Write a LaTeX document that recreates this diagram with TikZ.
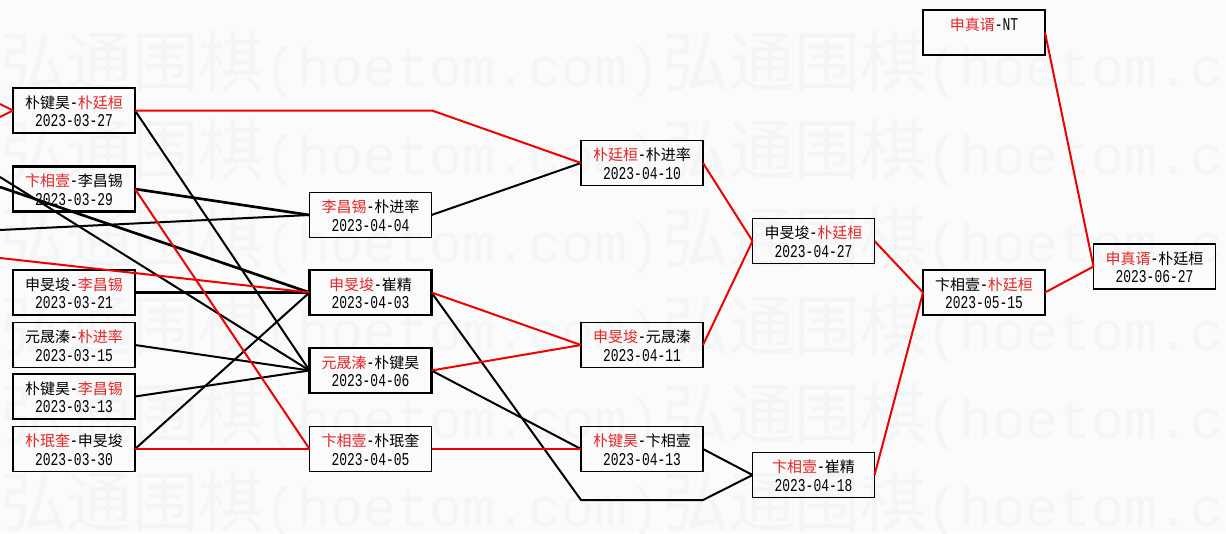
\documentclass[tikz,border=0pt]{standalone}
\usepackage{fontspec}
\newfontfamily\cjk{Noto Sans CJK SC}
\newfontfamily\cjklight{Noto Sans CJK SC Light}
\newfontfamily\dtfont[FakeStretch=0.72]{Liberation Mono}
\newfontfamily\wmfont{Liberation Mono}
\definecolor{bg}{RGB}{251,251,251}
\definecolor{wmc}{RGB}{244,245,246}
\definecolor{nred}{RGB}{228,38,38}
\definecolor{lred}{RGB}{236,0,0}
\newcommand\R[1]{\textcolor{nred}{#1}}
\newcommand\hy{{\fontsize{13.5pt}{14pt}\dtfont -}}
\newcommand\gbox[6]{%
  \node[#4] (#1) at (#2,#3) {};
  \node[nm] (#1n) at (#2,{#3-2.5}) {#5};
  \node[dt] (#1d) at (#2,{#3+16}) {#6};
}
\tikzset{
  box/.style={draw=black, line width=1.45pt, minimum width=91.5pt, minimum height=33.75pt, inner sep=0pt, outer sep=0pt},
  bbox/.style={box, line width=2.05pt},
  nm/.style={font=\cjk\fontsize{11.25pt}{12pt}\selectfont, inner sep=0pt, anchor=base},
  dt/.style={font=\dtfont\fontsize{13.5pt}{14pt}\selectfont, inner sep=0pt, anchor=base},
  wm/.style={text=wmc, inner sep=0pt, anchor=base west, font=\cjk\fontsize{49.5pt}{50pt}\selectfont},
  ln/.style={line width=1.5pt, line join=round},
  rl/.style={ln, draw=lred},
  bl/.style={ln, draw=black},
  tb/.style={bl, line width=2pt}
}
\newcommand\wmtext{弘通围棋{\wmfont\fontsize{41.25pt}{42pt}\selectfont(hoetom.com)}}
\begin{document}
\begin{tikzpicture}[x=0.75pt,y=-0.75pt]
\useasboundingbox (0,0) rectangle (1226,533);
\fill[bg] (0,0) rectangle (1226,533);
% watermark
\begin{scope}
\clip (0,0) rectangle (1226,533);
\foreach \k in {0,...,5}{
  \node[wm] (wa\k) at (0,{86+88*\k}) {\wmtext};
  \node[wm] (wb\k) at (662,{86+88*\k}) {\wmtext};
}
\end{scope}
% free ends and bends
\coordinate (Ri1) at (0,104);
\coordinate (Ri2) at (0,117);
\coordinate (L1) at (0,177);
\coordinate (L2) at (0,187);
\coordinate (L3) at (0,230);
\coordinate (L4) at (0,258);
\coordinate (K1) at (432,110.5);
\coordinate (K2) at (581,500);
\coordinate (K3) at (703,500);
% boxes
\gbox{A1}{74}{110.5}{box}{朴键昊\hy\R{朴廷桓}}{2023-03-27}
\gbox{A2}{74}{189}{bbox}{\R{卞相壹}\hy 李昌锡}{2023-03-29}
\gbox{A3}{74}{292.5}{bbox}{申旻埈\hy\R{李昌锡}}{2023-03-21}
\gbox{A4}{74}{345}{box}{元晟溱\hy\R{朴进率}}{2023-03-15}
\gbox{A5}{74}{396.5}{bbox}{朴键昊\hy\R{李昌锡}}{2023-03-13}
\gbox{A6}{74}{449}{box}{\R{朴珉奎}\hy 申旻埈}{2023-03-30}
\gbox{B1}{370.5}{215}{box}{\R{李昌锡}\hy 朴进率}{2023-04-04}
\gbox{B2}{370.5}{292.5}{bbox}{\R{申旻埈}\hy 崔精}{2023-04-03}
\gbox{B3}{370.5}{370.5}{bbox}{\R{元晟溱}\hy 朴键昊}{2023-04-06}
\gbox{B4}{370.5}{449}{box}{\R{卞相壹}\hy 朴珉奎}{2023-04-05}
\gbox{C1}{642}{163}{box}{\R{朴廷桓}\hy 朴进率}{2023-04-10}
\gbox{C2}{642}{345}{box}{\R{申旻埈}\hy 元晟溱}{2023-04-11}
\gbox{C3}{642}{449}{box}{\R{朴键昊}\hy 卞相壹}{2023-04-13}
\gbox{D1}{813.5}{241}{box}{申旻埈\hy\R{朴廷桓}}{2023-04-27}
\gbox{D2}{813.5}{475}{box}{\R{卞相壹}\hy 崔精}{2023-04-18}
\node[box] (E0) at (984,32.5) {};
\node[nm] (E0n) at (984,30) {\R{申真谞}{\fontsize{13.5pt}{14pt}\dtfont -NT}};
\gbox{E1}{984}{292.5}{box}{卞相壹\hy\R{朴廷桓}}{2023-05-15}
\gbox{F1}{1154.5}{266.5}{box}{\R{申真谞}\hy 朴廷桓}{2023-06-27}
% black connectors
\draw[bl] (A1.east) -- (B3.west);
\draw[tb] (A2.east) -- (B1.west);
\draw[bl] (L3) -- (B1.west);
\draw[tb] (L2) -- (B2.west);
\draw[bl] (L1) -- (B3.west);
\draw[tb] (A3.east) -- (B2.west);
\draw[bl] (A4.east) -- (B3.west);
\draw[bl] (A5.east) -- (B3.west);
\draw[bl] (A6.east) -- (B2.west);
\draw[bl] (B1.east) -- (C1.west);
\draw[bl] (B2.east) -- (K2) -- (K3) -- (D2.west);
\draw[bl] (B3.east) -- (C3.west);
\draw[bl] (C3.east) -- (D2.west);
% red connectors
\draw[rl] (Ri1) -- (A1.west);
\draw[rl] (Ri2) -- (A1.west);
\draw[rl] (A1.east) -- (K1) -- (C1.west);
\draw[rl] (A2.east) -- (B4.west);
\draw[rl] (L4) -- (B2.west);
\draw[rl] (A6.east) -- (B4.west);
\draw[rl] (B2.east) -- (C2.west);
\draw[rl] (B3.east) -- (C2.west);
\draw[rl] (B4.east) -- (C3.west);
\draw[rl] (C1.east) -- (D1.west);
\draw[rl] (C2.east) -- (D1.west);
\draw[rl] (D1.east) -- (E1.west);
\draw[rl] (D2.east) -- (E1.west);
\draw[rl] (E1.east) -- (F1.west);
\draw[rl] (E0.east) -- (F1.west);
\end{tikzpicture}
\end{document}
